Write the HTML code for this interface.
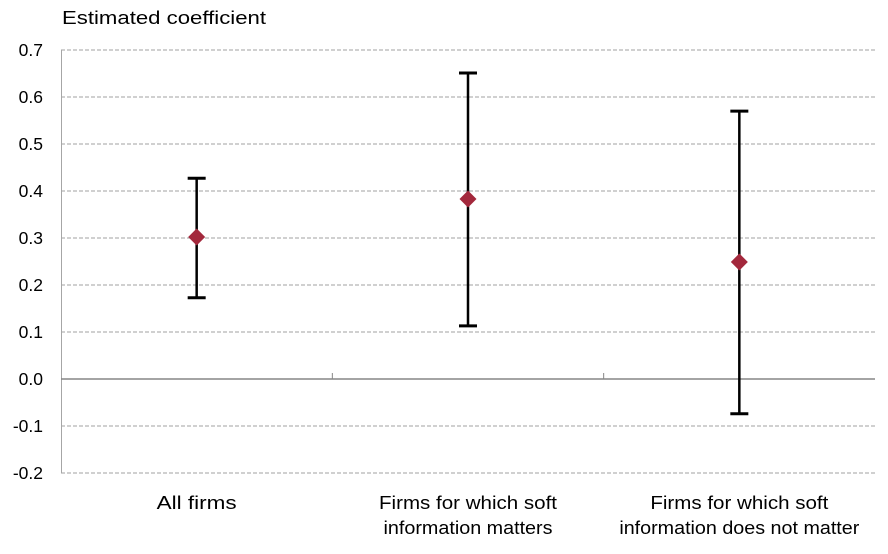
<!DOCTYPE html>
<html><head><meta charset="utf-8"><style>
body{margin:0;background:#fff;}
svg text{font-family:"Liberation Sans",Calibri,sans-serif;fill:#000;}
</style></head><body>
<svg id="chart" width="888" height="549" xmlns="http://www.w3.org/2000/svg">
<text x="62" y="24" font-size="18" textLength="204" lengthAdjust="spacingAndGlyphs">Estimated coefficient</text>
<g id="grid"></g><g id="marks"></g>
</svg>
<script>
const categories=[["All firms"],["Firms for which soft","information matters"],["Firms for which soft","information does not matter"]];
const estimates=[0.302,0.383,0.249];
const upper=[0.427,0.651,0.570];
const lower=[0.173,0.113,-0.074];
const yTicks=[0.7,0.6,0.5,0.4,0.3,0.2,0.1,0.0,-0.1,-0.2];
const NS="http://www.w3.org/2000/svg";
const x0=61,x1=875,yTop=50,yBot=473,yMax=0.7,yMin=-0.2;
const y=v=>yTop+(yMax-v)/(yMax-yMin)*(yBot-yTop);
const bw=(x1-x0)/categories.length;
const xc=i=>x0+bw*(i+0.5);
const grid=document.getElementById('grid'),marks=document.getElementById('marks');
function mk(t,a,p){const e=document.createElementNS(NS,t);for(const k in a)e.setAttribute(k,a[k]);p.appendChild(e);return e;}
yTicks.forEach(v=>{
  if(Math.abs(v)>1e-9){
    const l=mk('line',{x1:x0,x2:x1,y1:y(v),y2:y(v),stroke:'#a0a0a0','stroke-dasharray':'4,2','stroke-width':1},grid);
    
    
  }
  const t=mk('text',{x:43,y:y(v)+6,'text-anchor':'end','font-size':17.5},grid);
  t.textContent=v.toFixed(1);
  
  
});
const ya=mk('line',{x1:x0+0.5,x2:x0+0.5,y1:yTop,y2:yBot,stroke:'#a6a6a6','stroke-width':1},grid);


const xa=mk('line',{x1:x0,x2:x1,y1:y(0),y2:y(0),stroke:'#868686','stroke-width':1.5},grid);


for(let i=1;i<categories.length;i++){
  const tk=mk('line',{x1:x0+bw*i,x2:x0+bw*i,y1:y(0)-6,y2:y(0),stroke:'#868686','stroke-width':1},grid);
  
  
}
categories.forEach((lines,i)=>{
  lines.forEach((s,j)=>{
    const t=mk('text',{x:xc(i),y:509+j*25,'text-anchor':'middle','font-size':18},grid);
    t.textContent=s;
    t.setAttribute('textLength',(s.length*8.9).toFixed(0));
    t.setAttribute('lengthAdjust','spacingAndGlyphs');
    
    
  });
  const cx=xc(i);
  const st=mk('line',{x1:cx,x2:cx,y1:y(upper[i]),y2:y(lower[i]),stroke:'#000','stroke-width':2.5},marks);
  
  
  [upper[i],lower[i]].forEach(v=>{
    const c=mk('line',{x1:cx-9,x2:cx+9,y1:y(v),y2:y(v),stroke:'#000','stroke-width':3},marks);
    
    
  });
  const py=y(estimates[i]);
  const d=mk('polygon',{points:`${cx},${py-8.5} ${cx+8.5},${py} ${cx},${py+8.5} ${cx-8.5},${py}`,fill:'#a3283c'},marks);
  
  
});
</script>
</body></html>
